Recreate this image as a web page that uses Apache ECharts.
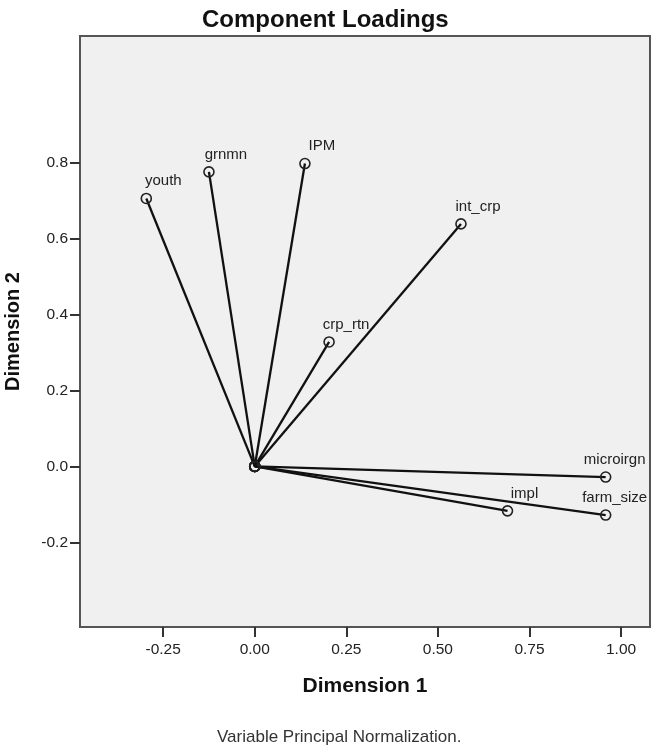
<!DOCTYPE html>
<html>
<head>
    <meta charset="utf-8">
    <title>Component Loadings</title>
    <script src="https://cdn.jsdelivr.net/npm/echarts@6/dist/echarts.min.js"></script>
    <style>
        html, body { margin: 0; padding: 0; background: #fff; }
        #main { width: 659px; height: 753px; }
    </style>
</head>
<body>
<div id="main"></div>
<script>
    // loadings
    var names = ['youth', 'grnmn', 'IPM', 'int_crp', 'crp_rtn', 'microirgn', 'farm_size', 'impl'];
    var dim1 = [-0.296, -0.125, 0.137, 0.563, 0.203, 0.958, 0.958, 0.690];
    var dim2 = [0.706, 0.776, 0.798, 0.639, 0.328, -0.028, -0.128, -0.117];

    var xTicks = [-0.25, 0.00, 0.25, 0.50, 0.75, 1.00];
    var yTicks = [-0.2, 0.0, 0.2, 0.4, 0.6, 0.8];

    var font = 'Liberation Sans, Arial, sans-serif';

    // one line per variable, from the origin out to its loading
    var series = names.map(function (n, i) {
        var dx = dim1[i] > 0.9 ? 9 : 17;
        return {
            name: n,
            type: 'line',
            data: [[0, 0], [dim1[i], dim2[i]]],
            symbol: 'circle',
            symbolSize: 10,
            showAllSymbol: true,
            lineStyle: { color: '#111', width: 2.3 },
            itemStyle: { color: 'rgba(0,0,0,0)', borderColor: '#222', borderWidth: 1.6 },
            label: {
                show: true,
                position: 'top',
                distance: 4,
                offset: [dx, 0],
                color: '#222',
                fontFamily: font,
                fontSize: 15,
                formatter: function (p) {
                    return p.dataIndex === 1 ? n : '';
                }
            },
            emphasis: { disabled: true },
            z: 3
        };
    });

    var myChart = echarts.init(document.getElementById('main'));
    var option = {
        animation: false,
        title: [{
            text: 'Component Loadings',
            left: 197,
            top: 3,
            textStyle: { fontFamily: font, fontSize: 24, fontWeight: 'bold', color: '#111' }
        }, {
            text: 'Variable Principal Normalization.',
            left: 212,
            top: 724,
            textStyle: { fontFamily: font, fontSize: 17, fontWeight: 'normal', color: '#333' }
        }],
        grid: {
            left: 80, right: 9, top: 36, bottom: 126,
            outerBoundsMode: 'none',
            show: true,
            backgroundColor: '#f0f0f0',
            borderColor: '#555',
            borderWidth: 2
        },
        xAxis: {
            type: 'value',
            min: -0.477,
            max: 1.079,
            name: 'Dimension 1',
            nameLocation: 'middle',
            nameGap: 49,
            nameTextStyle: { fontFamily: font, fontSize: 21, fontWeight: 'bold', color: '#111' },
            splitLine: { show: false },
            axisLine: { show: true, onZero: false, lineStyle: { color: '#555', width: 2 } },
            axisTick: { show: true, length: 10, customValues: xTicks, lineStyle: { color: '#333', width: 2 } },
            axisLabel: {
                customValues: xTicks,
                margin: 15,
                color: '#222',
                fontFamily: font,
                fontSize: 15.5,
                formatter: function (v) { return v.toFixed(2); }
            }
        },
        yAxis: {
            type: 'value',
            min: -0.423,
            max: 1.134,
            name: 'Dimension 2',
            nameLocation: 'middle',
            nameGap: 57,
            nameTextStyle: { fontFamily: font, fontSize: 20, fontWeight: 'bold', color: '#111' },
            splitLine: { show: false },
            axisLine: { show: true, onZero: false, lineStyle: { color: '#555', width: 2 } },
            axisTick: { show: true, length: 10, customValues: yTicks, lineStyle: { color: '#333', width: 2 } },
            axisLabel: {
                customValues: yTicks,
                margin: 12,
                color: '#222',
                fontFamily: font,
                fontSize: 15.5,
                formatter: function (v) { return v.toFixed(1); }
            }
        },
        series: series
    };
    myChart.setOption(option);
</script>
</body>
</html>
